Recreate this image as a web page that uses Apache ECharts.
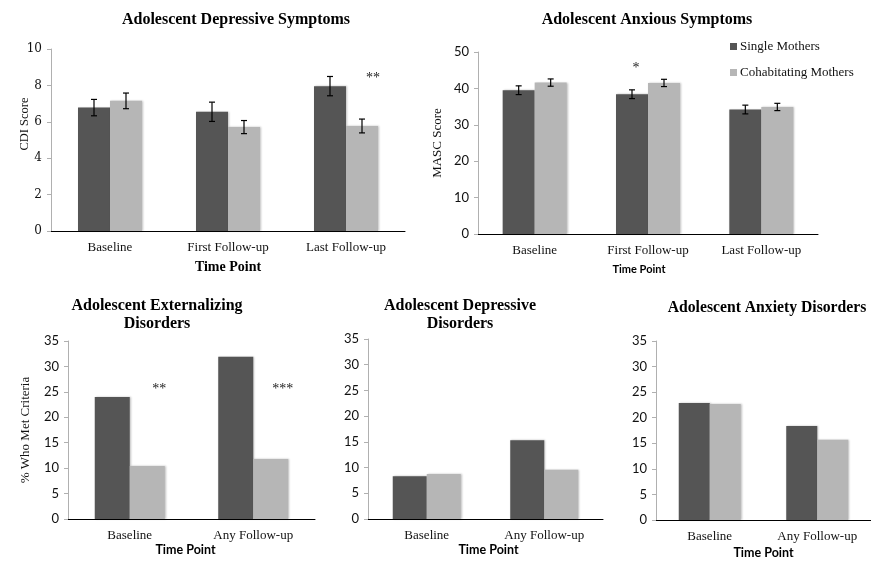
<!DOCTYPE html>
<html>
<head>
<meta charset="utf-8">
<script src="https://cdn.jsdelivr.net/npm/echarts@6/dist/echarts.min.js"></script>
<style>
  html, body { margin: 0; padding: 0; background: #ffffff; }
  #chart { width: 871px; height: 562px; }
</style>
</head>
<body>
<div id="chart"></div>
<script>
// ---------- data ----------
const catsTop = ['Baseline', 'First Follow-up', 'Last Follow-up'];
const catsBottom = ['Baseline', 'Any Follow-up'];
const seriesNames = ['Single Mothers', 'Cohabitating Mothers'];

const cdiSingle = [6.78, 6.55, 7.96];
const cdiCohab = [7.15, 5.71, 5.77];
const cdiSingleErr = [0.45, 0.53, 0.53];
const cdiCohabErr = [0.43, 0.36, 0.38];

const mascSingle = [39.5, 38.4, 34.2];
const mascCohab = [41.6, 41.5, 34.9];
const mascSingleErr = [1.2, 1.2, 1.2];
const mascCohabErr = [1.0, 1.0, 1.0];

const extSingle = [24.0, 31.9];
const extCohab = [10.4, 11.8];
const depSingle = [8.3, 15.3];
const depCohab = [8.75, 9.6];
const anxSingle = [22.9, 18.4];
const anxCohab = [22.7, 15.7];

// significance markers: [category index, group (0 single / 1 cohab), value height, text]
const cdiSig = [[2, 1, 8.4, '**']];
const mascSig = [[1, 0, 45.5, '*']];
const extSig = [[0, 1, 25.4, '**'], [1, 1, 25.4, '***']];

// axis scales (tick labels)
const cdiAxis = { min: 0, max: 10, interval: 2 };
const mascAxis = { min: 0, max: 50, interval: 10 };
const pctAxis = { min: 0, max: 35, interval: 5 };

// ---------- styling ----------
const DARK = '#555555';
const LIGHT = '#b6b6b6';
const SERIF = '"Liberation Serif", "Times New Roman", serif';
const SANS = 'Lato, "Liberation Sans", sans-serif';

const chart = echarts.init(document.getElementById('chart'), null, { renderer: 'canvas' });

const grids = [
  { left: 51, top: 49, width: 354, height: 182 },
  { left: 478, top: 52, width: 340, height: 182 },
  { left: 68, top: 341, width: 247, height: 178 },
  { left: 368, top: 339, width: 235, height: 180 },
  { left: 656, top: 341, width: 215, height: 179 }
];
const barWidths = [32, 32, 35, 34, 31];

function xAxisDef(gi, cats, nameFont, nameSize, nameGap, namePad) {
  return {
    type: 'category', gridIndex: gi, data: cats,
    axisLine: { lineStyle: { color: '#000', width: 1 } },
    axisTick: { show: false },
    axisLabel: { fontFamily: SERIF, fontSize: 13, color: '#111', margin: 10 },
    name: 'Time Point', nameLocation: 'middle', nameGap: nameGap,
    nameTextStyle: { fontFamily: nameFont, fontWeight: 'bold', fontSize: nameSize, color: '#000', padding: namePad || 0 }
  };
}
function yAxisDef(gi, sc, labelFont, labelSize, name, nameSize, nameGap, namePad, noMove) {
  const ax = {
    type: 'value', gridIndex: gi, min: sc.min, max: sc.max, interval: sc.interval,
    splitLine: { show: false },
    axisLine: { show: true, lineStyle: { color: '#b0b0b0', width: 1 } },
    axisTick: { show: true, length: 4, lineStyle: { color: '#b0b0b0' } },
    axisLabel: { fontFamily: labelFont, fontSize: labelSize, color: '#111', margin: 9 },
    name: name || '', nameLocation: 'middle', nameGap: nameGap || 30,
    nameTextStyle: { fontFamily: SERIF, fontSize: nameSize || 13, color: '#111', padding: namePad || 0 }
  };
  if (noMove) ax.nameMoveOverlap = false;
  return ax;
}

function barSeries(gi, name, data, color, bw) {
  return {
    type: 'bar', name: name, xAxisIndex: gi, yAxisIndex: gi, data: data,
    barWidth: bw, barGap: '0%',
    itemStyle: { color: color, shadowColor: 'rgba(0,0,0,0.25)', shadowBlur: 2, shadowOffsetX: 1, shadowOffsetY: 0 },
    emphasis: { disabled: true },
    animation: false
  };
}

function errSeries(gi, values, errs, side, bw) {
  const data = values.map((v, i) => [i, v + errs[i], v - errs[i]]);
  return {
    type: 'custom', xAxisIndex: gi, yAxisIndex: gi, data: data, z: 5, silent: true, animation: false,
    renderItem: function (params, api) {
      const hi = api.coord([api.value(0), api.value(1)]);
      const lo = api.coord([api.value(0), api.value(2)]);
      const cx = hi[0] + (side === 0 ? -bw / 2 : bw / 2);
      const cap = 3;
      const st = { stroke: '#000', lineWidth: 1.2 };
      return {
        type: 'group', children: [
          { type: 'line', shape: { x1: cx, y1: hi[1], x2: cx, y2: lo[1] }, style: st },
          { type: 'line', shape: { x1: cx - cap, y1: hi[1], x2: cx + cap, y2: hi[1] }, style: st },
          { type: 'line', shape: { x1: cx - cap, y1: lo[1], x2: cx + cap, y2: lo[1] }, style: st }
        ]
      };
    }
  };
}

function sigSeries(gi, sig, bw, dx) {
  return {
    type: 'custom', xAxisIndex: gi, yAxisIndex: gi, data: sig, z: 6, silent: true, animation: false,
    renderItem: function (params, api) {
      const p = api.coord([api.value(0), api.value(2)]);
      const side = api.value(1);
      const cx = p[0] + (side === 0 ? -bw / 2 : bw / 2) + dx;
      return {
        type: 'text',
        style: {
          text: sig[params.dataIndex][3], x: cx, y: p[1],
          align: 'center', verticalAlign: 'middle',
          font: '14px ' + SERIF, fill: '#222'
        }
      };
    }
  };
}

const titleStyle = { fontFamily: SERIF, fontWeight: 'bold', fontSize: 16, color: '#000', lineHeight: 18 };

const option = {
  backgroundColor: '#ffffff',
  animation: false,
  title: [
    { text: 'Adolescent Depressive Symptoms', left: 231, top: 6, textAlign: 'center', textStyle: titleStyle },
    { text: 'Adolescent Anxious Symptoms', left: 642, top: 6, textAlign: 'center', textStyle: titleStyle },
    { text: 'Adolescent Externalizing\nDisorders', left: 152, top: 292, textAlign: 'center', textStyle: titleStyle },
    { text: 'Adolescent Depressive\nDisorders', left: 455, top: 292, textAlign: 'center', textStyle: titleStyle },
    { text: 'Adolescent Anxiety Disorders', left: 762, top: 294, textAlign: 'center', textStyle: Object.assign({}, titleStyle, { fontSize: 15.7 }) }
  ],
  legend: {
    data: seriesNames, orient: 'vertical', left: 725, top: 35,
    icon: 'rect', itemWidth: 7, itemHeight: 7, itemGap: 13,
    textStyle: { fontFamily: SERIF, fontSize: 13, color: '#111', padding: [0, 0, 0, -2] },
    selectedMode: false
  },
  grid: grids,
  xAxis: [
    xAxisDef(0, catsTop, SERIF, 14, 29),
    xAxisDef(1, catsTop, SANS, 11, 30, [0, 18, 0, 0]),
    xAxisDef(2, catsBottom, SANS, 12.5, 24, [0, 12, 0, 0]),
    xAxisDef(3, catsBottom, SANS, 12.5, 24, [0, 0, 0, 6]),
    xAxisDef(4, catsBottom, SANS, 12.5, 26)
  ],
  yAxis: [
    yAxisDef(0, cdiAxis, '"DejaVu Serif", serif', 12, 'CDI Score', 12.5, 20, [0, 0, 0, 32], true),
    yAxisDef(1, mascAxis, SANS, 13, 'MASC Score', 13, 34),
    yAxisDef(2, pctAxis, SANS, 13, '% Who Met Criteria', 13, 36),
    yAxisDef(3, pctAxis, SANS, 13),
    yAxisDef(4, pctAxis, SANS, 13)
  ],
  series: [
    barSeries(0, seriesNames[0], cdiSingle, DARK, barWidths[0]),
    barSeries(0, seriesNames[1], cdiCohab, LIGHT, barWidths[0]),
    errSeries(0, cdiSingle, cdiSingleErr, 0, barWidths[0]),
    errSeries(0, cdiCohab, cdiCohabErr, 1, barWidths[0]),
    sigSeries(0, cdiSig, barWidths[0], 11),

    barSeries(1, seriesNames[0], mascSingle, DARK, barWidths[1]),
    barSeries(1, seriesNames[1], mascCohab, LIGHT, barWidths[1]),
    errSeries(1, mascSingle, mascSingleErr, 0, barWidths[1]),
    errSeries(1, mascCohab, mascCohabErr, 1, barWidths[1]),
    sigSeries(1, mascSig, barWidths[1], 4),

    barSeries(2, seriesNames[0], extSingle, DARK, barWidths[2]),
    barSeries(2, seriesNames[1], extCohab, LIGHT, barWidths[2]),
    sigSeries(2, extSig, barWidths[2], 12),

    barSeries(3, seriesNames[0], depSingle, DARK, barWidths[3]),
    barSeries(3, seriesNames[1], depCohab, LIGHT, barWidths[3]),

    barSeries(4, seriesNames[0], anxSingle, DARK, barWidths[4]),
    barSeries(4, seriesNames[1], anxCohab, LIGHT, barWidths[4])
  ]
};

chart.setOption(option);
</script>
</body>
</html>
